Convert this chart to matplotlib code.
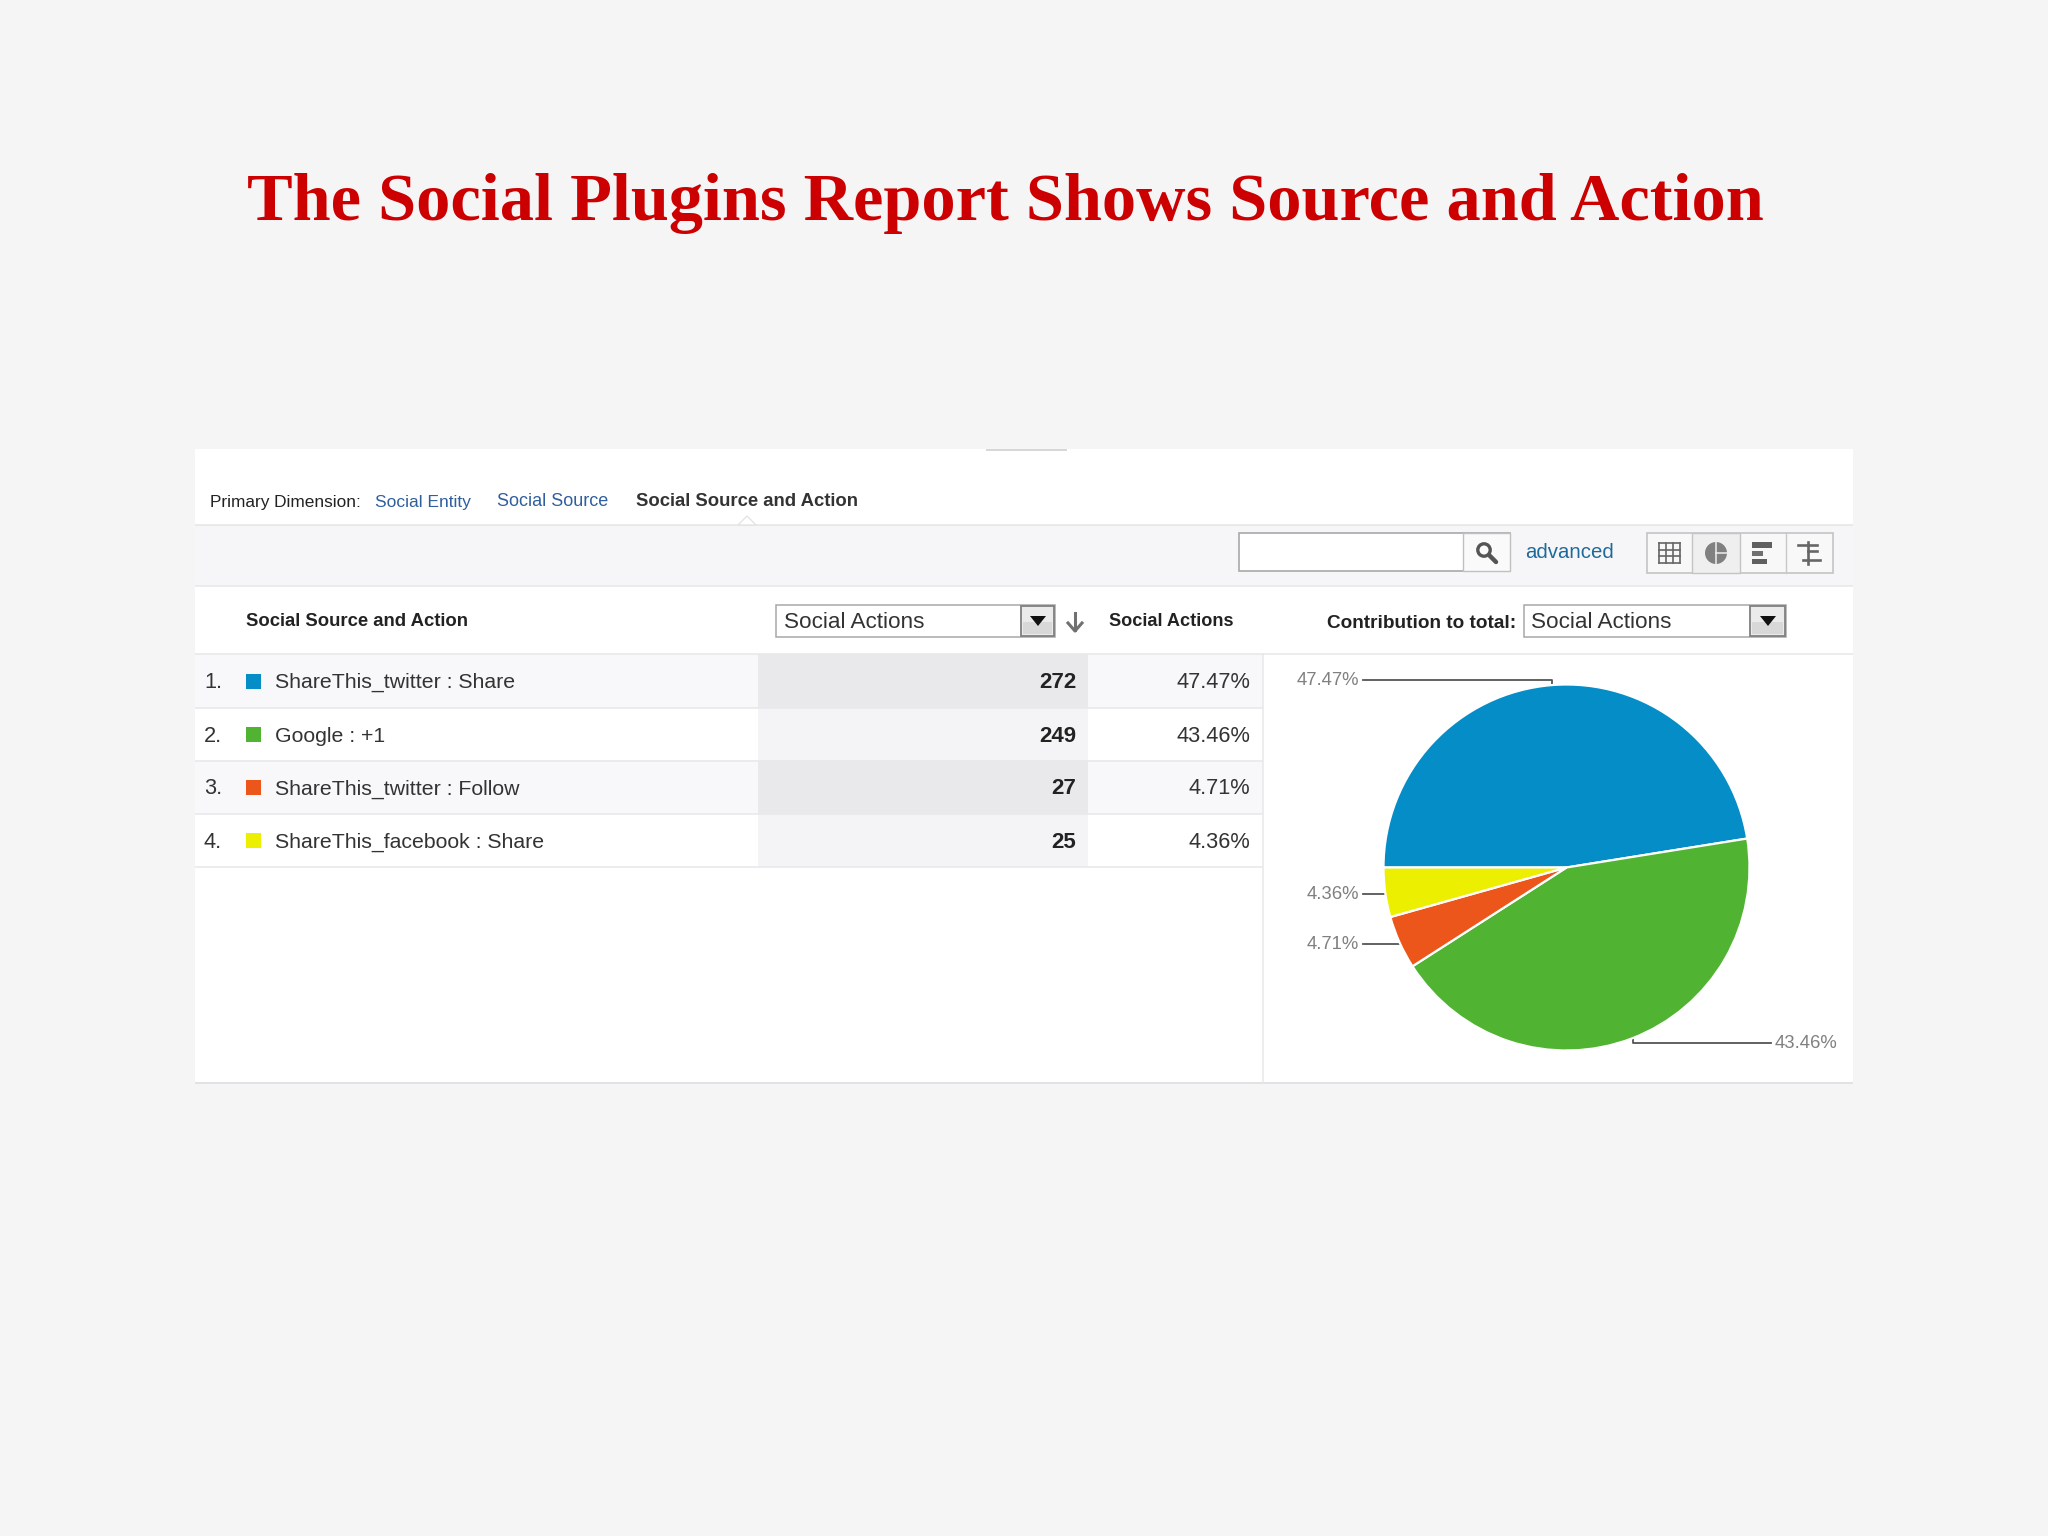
import matplotlib
matplotlib.use("Agg")
import matplotlib.pyplot as plt
from matplotlib.patches import Rectangle, Circle, Polygon

W, H = 2048, 1536
title = "The Social Plugins Report Shows Source and Action"
categories = ["ShareThis_twitter : Share", "Google : +1",
              "ShareThis_twitter : Follow", "ShareThis_facebook : Share"]
values = [272, 249, 27, 25]
percents = ["47.47%", "43.46%", "4.71%", "4.36%"]
colors = ["#058dc7", "#50b432", "#ed561b", "#edef00"]

BG = "#f5f5f6"
plt.rcParams["font.family"] = ["Liberation Sans", "DejaVu Sans"]
fig = plt.figure(figsize=(W / 100, H / 100), dpi=100, facecolor=BG)
ax = fig.add_axes([0, 0, 1, 1])
ax.set_xlim(0, W)
ax.set_ylim(H, 0)
ax.axis("off")


def rect(x0, y0, x1, y1, fc="none", ec="none", lw=0, z=1):
    ax.add_patch(Rectangle((x0, y0), x1 - x0, y1 - y0, fc=fc, ec=ec, lw=lw, zorder=z))


def hline(y, x0=195, x1=1853, c="#e9e9eb", lw=1.2, z=2):
    ax.plot([x0, x1], [y, y], color=c, lw=lw, zorder=z, solid_capstyle="butt")


def txt(x, y, s, size, c="#222222", w="normal", ha="left", **kw):
    ax.text(x, y, s, fontsize=size, color=c, fontweight=w, ha=ha, va="center", zorder=5, **kw)


# Title
ax.text(1005, 204, title, fontsize=49.2, color="#cc0000", fontweight="bold",
        family=["Liberation Serif", "DejaVu Serif"], ha="center", va="center")

# Panel
rect(195, 449, 1853, 1083, fc="white")
rect(195, 525, 1853, 586, fc="#f6f6f8")
hline(449.5, 986, 1067, c="#cfcfcf")
hline(525, c="#e6e6e8")
hline(586, c="#e9e9eb")
hline(654, c="#e9e9eb")
hline(1083, c="#e2e2e6", lw=1.4)
ax.plot([1263, 1263], [654, 1083], color="#e8e8ea", lw=1.1, zorder=2)
ax.add_patch(Polygon([[738, 525], [747, 516], [756, 525]], closed=True, fc="white", ec="#e2e2e2", lw=0.9, zorder=3))

# Tabs
txt(210, 502, "Primary Dimension:", 12.45)
txt(375, 502, "Social Entity", 12.5, c="#2f5f9e")
txt(497, 502, "Social Source", 13.0, c="#2f5f9e")
txt(636, 502, "Social Source and Action", 13.3, c="#333333", w="bold")

# Search
rect(1239, 533, 1510, 571, fc="white", ec="#a8a8a8", lw=1.2, z=3)
rect(1463, 533, 1510, 571, fc="#fafafa", ec="#c0c0c0", lw=1.0, z=3)
ax.add_patch(Circle((1484, 550), 6.2, fc="none", ec="#555555", lw=2.4, zorder=4))
ax.plot([1489, 1496], [555, 562], color="#555555", lw=3.2, zorder=4, solid_capstyle="round")
txt(1525, 553, "advanced", 14.7, c="#1f6a9a")

# View buttons
rect(1647, 533, 1833, 573, fc="#f8f8f8", ec="#c4c4c4", lw=1.2, z=3)
rect(1692, 533, 1740, 573, fc="#efeff0", ec="#c4c4c4", lw=1.0, z=3)
ax.plot([1786, 1786], [533, 573], color="#c8c8c8", lw=1.0, zorder=4)
# grid icon
for gx in [1659, 1666, 1673, 1680]:
    ax.plot([gx, gx], [543, 563], color="#666666", lw=1.2, zorder=4)
for gy in [543, 549.7, 556.3, 563]:
    ax.plot([1659, 1680], [gy, gy], color="#666666", lw=1.2, zorder=4)
# pie icon
ax.add_patch(Circle((1716, 553), 11, fc="#808080", ec="none", zorder=4))
ax.plot([1716, 1716], [542, 564], color="#eeeeee", lw=1.1, zorder=5)
ax.plot([1716, 1727], [553, 553], color="#eeeeee", lw=1.1, zorder=5)
# bars icon
rect(1752, 542, 1772, 548, fc="#606060", z=4)
rect(1752, 551, 1763, 556, fc="#707070", z=4)
rect(1752, 559, 1767, 564, fc="#606060", z=4)
# pivot icon
ax.plot([1798, 1817], [545, 545], color="#666666", lw=1.9, zorder=4)
ax.plot([1808, 1808], [542, 564], color="#666666", lw=1.9, zorder=4)
ax.plot([1808, 1817], [551, 551], color="#666666", lw=1.9, zorder=4)
ax.plot([1803, 1820], [560, 560], color="#666666", lw=1.9, zorder=4)

# Header row
txt(246, 622, "Social Source and Action", 13.3, w="bold")
txt(1109, 622, "Social Actions", 13.1, w="bold")
txt(1327, 623, "Contribution to total:", 13.7, w="bold")


def dropdown(x0, x1, bx0, tx):
    rect(x0, 605, x1, 637, fc="white", ec="#a8a8a8", lw=1.1, z=3)
    rect(bx0, 606, x1 - 1, 636, fc="#ebebeb", ec="#808080", lw=1.3, z=4)
    rect(bx0 + 2, 622, x1 - 3, 634, fc="#d8d8d8", z=4.5)
    mid = (bx0 + x1) / 2
    ax.add_patch(Polygon([[mid - 8, 616], [mid + 8, 616], [mid, 626]], closed=True, fc="#111111", zorder=5))
    txt(tx, 622.5, "Social Actions", 16.2, c="#333333")


dropdown(776, 1055, 1021, 784)
dropdown(1524, 1786, 1750, 1531)
ax.plot([1075, 1075], [613, 630], color="#707070", lw=2.2, zorder=4)
ax.plot([1068, 1075, 1082], [623, 631, 623], color="#707070", lw=2.2, zorder=4)

# Table rows
row_tops = [654, 708, 761, 814]
row_bots = [708, 761, 814, 867]
for i, (cat, v, p, c) in enumerate(zip(categories, values, percents, colors)):
    y0, y1 = row_tops[i], row_bots[i]
    ym = (y0 + y1) / 2
    odd = i % 2 == 0
    rect(195, y0, 1263, y1, fc="#f8f8fa" if odd else "white")
    rect(758, y0, 1088, y1, fc="#e9e9eb" if odd else "#f4f4f6", z=1.5)
    hline(y1, 195, 1263)
    txt(204, ym + 1.5, f"{i + 1}.", 15.7, c="#333333")
    rect(246, ym - 7.5, 261, ym + 7.5, fc=c, z=3)
    txt(275, ym + 1.5, cat, 15.3, c="#333333")
    txt(1076, ym + 1.5, str(v), 16, c="#222222", w="bold", ha="right")
    txt(1250, ym + 1.5, p, 15.7, c="#333333", ha="right")

# Pie
cx, cy, R = 1566.5, 867.5, 183
pad = 1.02
pax = fig.add_axes([(cx - R * pad) / W, 1 - (cy + R * pad) / H, 2 * R * pad / W, 2 * R * pad / H])
pax.pie(values, colors=colors, startangle=180, counterclock=False, radius=1 / pad,
        wedgeprops=dict(edgecolor="white", linewidth=1.6))
pax.set_xlim(-1, 1)
pax.set_ylim(-1, 1)
pax.set_aspect("equal")
pax.set_zorder(3)

# Leader lines and labels (same order as the series)
LC = "#555555"
ax.plot([1363, 1552, 1552], [680, 680, 686], color=LC, lw=1.3, zorder=4)
ax.plot([1633, 1633, 1771], [1038, 1043, 1043], color=LC, lw=1.3, zorder=4)
ax.plot([1363, 1400], [944, 944], color=LC, lw=1.3, zorder=4)
ax.plot([1363, 1386], [894, 894], color=LC, lw=1.3, zorder=4)
GC = "#808080"
txt(1359, 680.5, percents[0], 13.3, c=GC, ha="right")
txt(1775, 1044, percents[1], 13.3, c=GC)
txt(1359, 944.5, percents[2], 13.3, c=GC, ha="right")
txt(1359, 894.5, percents[3], 13.3, c=GC, ha="right")

fig.savefig("out.png", dpi=100, facecolor=BG)
